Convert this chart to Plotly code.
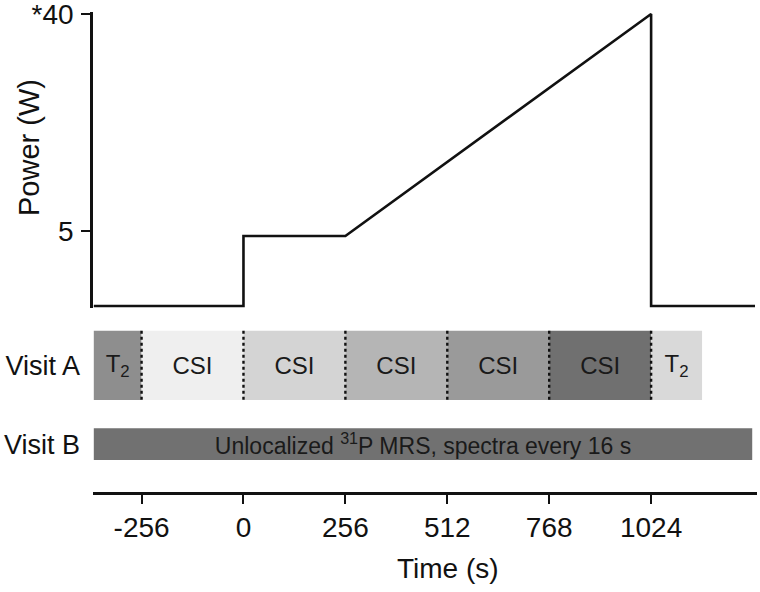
import plotly.graph_objects as go

# ---------------- data ----------------
# Power profile (schematic, in axis units as drawn)
power_time = [-376, 0, 0, 256, 1024, 1024, 1285]
power_watts = [-7.1, -7.1, 4.2, 4.2, 40, -7.1, -7.1]

power_tickvals = [5, 40]
power_ticktext = ["5", "*40"]

time_tickvals = [-256, 0, 256, 512, 768, 1024]
time_ticktext = ["-256", "0", "256", "512", "768", "1024"]

# Visit A acquisition blocks
visitA_labels = ["T<sub>2</sub>", "CSI", "CSI", "CSI", "CSI", "CSI", "T<sub>2</sub>"]
visitA_start = [-376, -256, 0, 256, 512, 768, 1024]
visitA_end = [-256, 0, 256, 512, 768, 1024, 1152]
visitA_colors = ["#8e8e8e", "#efefef", "#d4d4d4", "#b5b5b5", "#9a9a9a", "#707070", "#d9d9d9"]

# Visit B acquisition block
visitB_labels = ["Unlocalized <sup>31</sup>P MRS, spectra every 16 s"]
visitB_start = [-376]
visitB_end = [1278]
visitB_colors = ["#717171"]

row_names = ["Visit A", "Visit B"]

# ---------------- layout helpers ----------------
W, H = 760, 592
FONT = "Liberation Sans, Arial, Helvetica, sans-serif"


def fx(px):
    return px / W


def fy(py):
    return 1 - py / H


# row geometry on yaxis2 (range 0..1 over pixel rows 316..470)
Y2_TOP, Y2_BOT = 316, 470


def y2v(py):
    return (Y2_BOT - py) / (Y2_BOT - Y2_TOP)


rowA_c, rowA_w = y2v(365.4), 69.3 / (Y2_BOT - Y2_TOP)
rowB_c, rowB_w = y2v(444.2), 31.7 / (Y2_BOT - Y2_TOP)

fig = go.Figure()

# power line
fig.add_trace(go.Scatter(
    x=power_time, y=power_watts, mode="lines",
    line=dict(color="#111111", width=2.6),
    xaxis="x", yaxis="y", showlegend=False, hoverinfo="skip",
))

# Visit A bars
fig.add_trace(go.Bar(
    orientation="h",
    y=[rowA_c] * len(visitA_start),
    x=[e - s for s, e in zip(visitA_start, visitA_end)],
    base=visitA_start,
    width=[rowA_w] * len(visitA_start),
    marker=dict(color=visitA_colors, line=dict(width=0)),
    text=visitA_labels, textposition="inside", insidetextanchor="middle",
    constraintext="none",
    insidetextfont=dict(family=FONT, size=24, color="#1a1a1a"),
    xaxis="x", yaxis="y2", showlegend=False, hoverinfo="skip",
))

# Visit B bar
fig.add_trace(go.Bar(
    orientation="h",
    y=[rowB_c] * len(visitB_start),
    x=[e - s for s, e in zip(visitB_start, visitB_end)],
    base=visitB_start,
    width=[rowB_w] * len(visitB_start),
    marker=dict(color=visitB_colors, line=dict(width=0)),
    text=visitB_labels, textposition="inside", insidetextanchor="middle",
    constraintext="none",
    insidetextfont=dict(family=FONT, size=23, color="#1a1a1a"),
    xaxis="x", yaxis="y2", showlegend=False, hoverinfo="skip",
))

# dotted separators between Visit A blocks
sep_x, sep_y = [], []
top = rowA_c + rowA_w / 2
bot = rowA_c - rowA_w / 2 - 0.012
for b in visitA_start[1:]:
    sep_x += [b, b, None]
    sep_y += [top, bot, None]
fig.add_trace(go.Scatter(
    x=sep_x, y=sep_y, mode="lines",
    line=dict(color="#111111", width=2.4, dash="dot"),
    xaxis="x", yaxis="y2", showlegend=False, hoverinfo="skip",
))

# power y-axis geometry: 40 at py 14, 5 at py 231
w_per_px = (40 - 5) / (231 - 14)
Y1_TOP, Y1_BOT = 12, 308
y1_range = [40 - (Y1_BOT - 14) * w_per_px, 40 + (14 - Y1_TOP) * w_per_px]

fig.update_layout(
    template="none",
    width=W, height=H,
    margin=dict(l=0, r=0, t=0, b=0, pad=0),
    paper_bgcolor="white", plot_bgcolor="white",
    barmode="overlay",
    showlegend=False,
    font=dict(family=FONT, color="#111111"),
    xaxis=dict(
        domain=[fx(93), fx(757)], range=[-378, 1290],
        anchor="free", position=fy(493), automargin=False,
        showline=True, linecolor="#111111", linewidth=2.6,
        ticks="outside", ticklen=9, tickwidth=2.4, tickcolor="#111111",
        tickvals=time_tickvals, ticktext=time_ticktext,
        tickfont=dict(family=FONT, size=28, color="#111111"),
        ticklabeloverflow="allow",
        showgrid=False, zeroline=False,
    ),
    yaxis=dict(
        domain=[fy(Y1_BOT), fy(Y1_TOP)], range=y1_range, anchor="x",
        automargin=False,
        showline=True, linecolor="#111111", linewidth=2.6,
        ticks="outside", ticklen=9, tickwidth=2.4, tickcolor="#111111",
        tickvals=power_tickvals, ticktext=power_ticktext,
        tickfont=dict(family=FONT, size=28, color="#111111"),
        ticklabeloverflow="allow", ticklabelstandoff=2,
        showgrid=False, zeroline=False,
    ),
    yaxis2=dict(
        domain=[fy(Y2_BOT), fy(Y2_TOP)], range=[0, 1], anchor="x",
        automargin=False,
        showline=False, showgrid=False, zeroline=False, ticks="",
        tickvals=[rowA_c, rowB_c], ticktext=row_names,
        ticklabelstandoff=12, ticklabeloverflow="allow",
        tickfont=dict(family=FONT, size=27, color="#111111"),
    ),
    annotations=[
        dict(text="Time (s)", x=fx(448), y=fy(568), xref="paper", yref="paper",
             showarrow=False, font=dict(family=FONT, size=28, color="#111111"),
             xanchor="center", yanchor="middle"),
        dict(text="Power (W)", x=fx(29), y=fy(148), xref="paper", yref="paper",
             textangle=-90, showarrow=False,
             font=dict(family=FONT, size=29, color="#111111"),
             xanchor="center", yanchor="middle"),
    ],
)

fig.write_html("out.html", config={"displayModeBar": False},
               post_script="document.body.style.margin='0';")
